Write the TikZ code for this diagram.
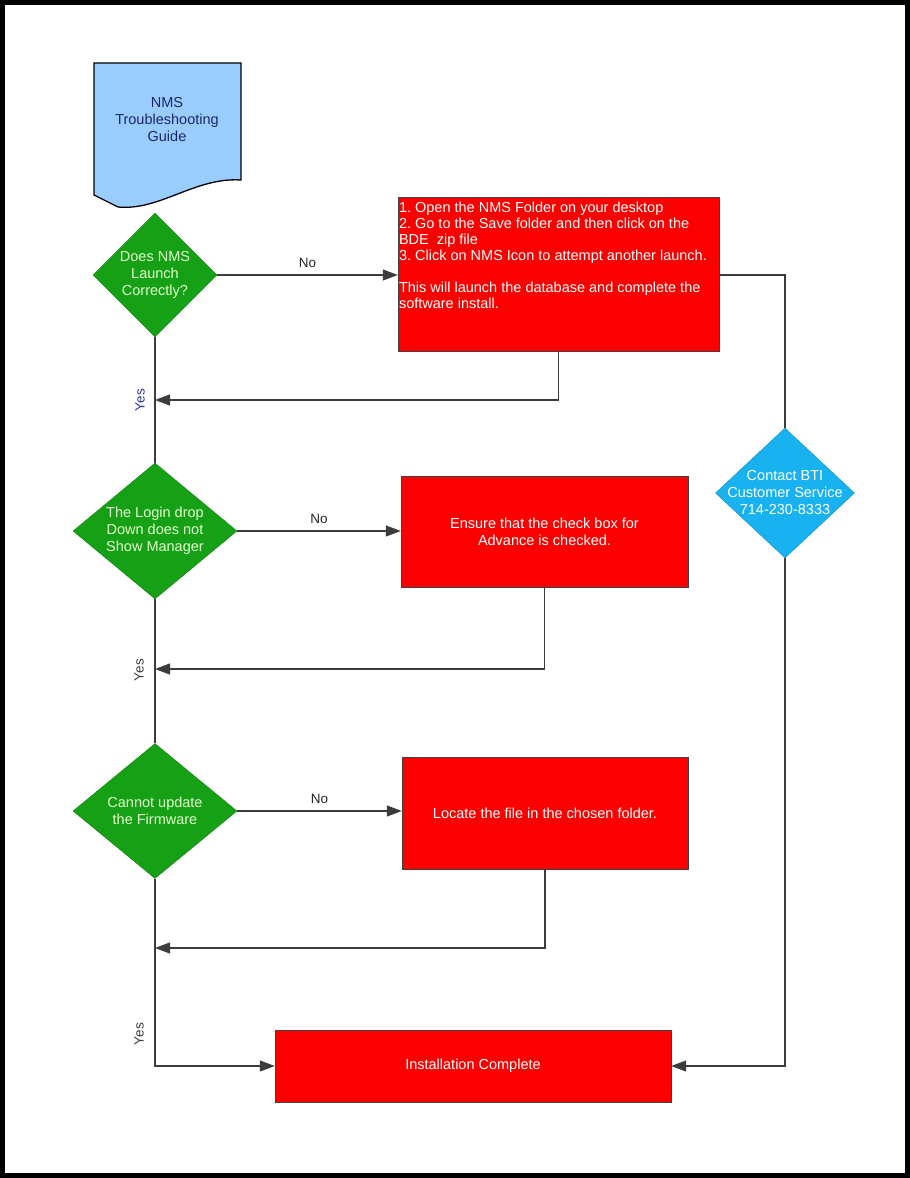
\documentclass[tikz,border=0pt]{standalone}
\usepackage{fontspec}
\setmainfont{Liberation Sans}
\usetikzlibrary{shapes.geometric,arrows.meta}
\definecolor{docblue}{RGB}{153,204,255}
\definecolor{docink}{RGB}{30,40,95}
\definecolor{askgreen}{RGB}{22,160,22}
\definecolor{askink}{RGB}{225,255,205}
\definecolor{helpblue}{RGB}{25,178,240}
\definecolor{stepred}{RGB}{250,0,0}
\definecolor{linegray}{RGB}{60,60,60}
\definecolor{yesblue}{RGB}{50,50,150}
\frenchspacing
\begin{document}
\begin{tikzpicture}
  [x=1pt,y=-1pt,
   every node/.style={font=\fontsize{14.5}{17}\selectfont},
   decision/.style={diamond,aspect=1,fill=askgreen,draw=askgreen!80!black,text=askink,align=center,inner sep=-14pt},
   action/.style={rectangle,fill=stepred,draw=black!75,text=white,align=center},
   link/.style={draw=linegray,line width=1.1pt},
   arr/.style={link,-{Triangle[length=15pt,width=11pt]}},
   yes/.style={rotate=90,text=linegray,font=\fontsize{13.5}{16}\selectfont},
   no/.style={above=3pt,text=black!85,font=\fontsize{13.5}{16}\selectfont}]
  \useasboundingbox (0,0) rectangle (910,1178);
  \draw[line width=5pt] (2.5,2.5) rectangle (907.5,1175.5);

  % start document
  \draw[fill=docblue,line width=1.3pt] (94,63) -- (241,63) -- (241,180)
    .. controls (195,177) and (160,211) .. (118,207) -- (94,195) -- cycle;
  \node[text=docink,align=center] (guide) at (167,120) {NMS\\Troubleshooting\\Guide};

  % questions
  \node[decision,minimum width=124pt,minimum height=124pt] (q1) at (155,275) {Does NMS\\Launch\\Correctly?};
  \node[decision,minimum width=164pt,minimum height=136pt] (q2) at (155,531) {The Login drop\\Down does not\\Show Manager};
  \node[decision,minimum width=164pt,minimum height=135pt] (q3) at (155,811) {Cannot update\\the Firmware};
  \node[decision,fill=helpblue,draw=helpblue!80!black,text=white,minimum width=139pt,minimum height=130pt] (help) at (785,493) {Contact BTI\\Customer Service\\714-230-8333};

  % actions
  \node[action,minimum width=321pt,minimum height=154pt] (a1) at (558.5,274) {};
  \node[text=white,anchor=north west,align=left,inner sep=0pt] (a1txt) at ([xshift=1pt,yshift=-5pt]a1.north west)
    {1. Open the NMS Folder on your desktop\\[-1pt]
     2. Go to the Save folder and then click on the\\[-1pt]
     BDE\ \ zip file\\[-1pt]
     3. Click on NMS Icon to attempt another launch.\\[15pt]
     This will launch the database and complete the\\[-1pt]
     software install.};
  \node[action,minimum width=287pt,minimum height=111pt] (a2) at (544.5,531.5) {Ensure that the check box for\\Advance is checked.};
  \node[action,minimum width=286pt,minimum height=112pt] (a3) at (545,813) {Locate the file in the chosen folder.};
  \node[action,minimum width=396pt,minimum height=72pt] (done) at (473,1066) {Installation Complete};

  % joins on the main line
  \coordinate (j1) at (155,400);
  \coordinate (j2) at (155,669);
  \coordinate (j3) at (155,948);

  \draw[arr] (q1.east) -- node[no] {No} (a1.west |- q1.east);
  \draw[arr] (q2.east) -- node[no] {No} (a2.west |- q2.east);
  \draw[arr] (q3.east) -- node[no] {No} (a3.west |- q3.east);
  \draw[arr] (a1.south) |- (j1);
  \draw[arr] (a2.south) |- (j2);
  \draw[arr] (a3.south) |- (j3);
  \draw[link] (q1.south) -- (q2.north);
  \draw[link] (q2.south) -- (q3.north);
  \draw[arr] (q3.south) |- (done.west);
  \draw[link] (a1.east |- q1) -| (help.north);
  \draw[arr] (help.south) |- (done.east);

  \node[yes,text=yesblue] (yes1) at (140,400) {Yes};
  \node[yes] (yes2) at (139,670) {Yes};
  \node[yes] (yes3) at (139,1034) {Yes};
\end{tikzpicture}
\end{document}
